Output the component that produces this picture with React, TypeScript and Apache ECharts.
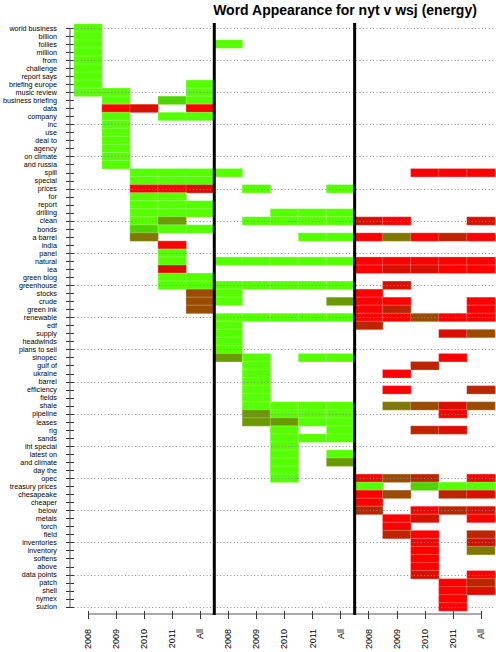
import React, { useEffect, useRef } from "react";
import * as echarts from "echarts";

const chartTitle = "Word Appearance for nyt v wsj (energy)";
const periods = ["2008", "2009", "2010", "2011", "All"];
const groupCount = 3;
const columns: string[] = Array.from({ length: groupCount }, () => periods).flat();

const words = [
  "world business", "billion", "follies", "million", "from", "challenge", "report says",
  "briefing europe", "music review", "business briefing", "data", "company", "inc", "use",
  "deal to", "agency", "on climate", "and russia", "spill", "special", "prices", "for",
  "report", "drilling", "clean", "bonds", "a barrel", "india", "panel", "natural", "iea",
  "green blog", "greenhouse", "stocks", "crude", "green ink", "renewable", "edf", "supply",
  "headwinds", "plans to sell", "sinopec", "gulf of", "ukraine", "barrel", "efficiency",
  "fields", "shale", "pipeline", "leases", "rig", "sands", "iht special", "latest on",
  "and climate", "day the", "opec", "treasury prices", "chesapeake", "cheaper", "below",
  "metals", "torch", "field", "inventories", "inventory", "softens", "above", "data points",
  "patch", "shell", "nymex", "suzlon",
];

// one string per word, one character per column: "." = absent, 1..8 = colour level
const cells = [
  "1..............", "1..............", "1....1.........", "1..............",
  "1..............", "1..............", "1..............", "1...1..........",
  "11..1..........", ".1.21..........", ".87.8..........", ".1.11..........",
  ".1.............", ".1.............", ".1.............", ".1.............",
  ".1.............", ".1.............", "..1111......888", "..111..........",
  "..887.1..1.....", "..11...........", "..111..........", "..111..111.....",
  "..13..111178..7", "..211..........", "..4.....1184868", "...8...........",
  "...1...........", "...1.1111188888", "...7......87788", "...11..........",
  "...1111111.7...", "....51....8....", "....51...388..8", "....5.....86..8",
  ".....1111188588", ".....1....6....", ".....1.......75", ".....1.........",
  ".....1.........", ".....31.11...8.", "......1.....6..", "......1....8...",
  "......1........", "......1....8..6", "......1........", "......1111.4575",
  "......3111...8.", "......3311.....", ".......1.1..67.", ".......111.....",
  ".......1.......", ".......1.1.....", ".......1.3.....", ".......1.......",
  ".......1..856.8", "..........1.211", "..........85.67", "..........8....",
  "..........6.867", "...........87.8", "...........8...", "...........68.6",
  "............8.7", "............8.4", "............8..", "............8..",
  "............7.8", ".............86", ".............87", ".............8.",
  ".............8.",
];

// level 1..8 : green, mid green, olive green, olive, brown, brown red, dark red, red
const levelColors = ["#55ff00", "#4fd400", "#6b9a00", "#807800", "#9c4c00", "#bd2400", "#d91000", "#ff0000"];

const FONT = '"Liberation Sans", Arial, Helvetica, sans-serif';
const W = 496;
const H = 652;
const GRID = { left: 70, top: 24, width: 425, height: 590 };

export default function App() {
  const ref = useRef<HTMLDivElement>(null);

  useEffect(() => {
    if (!ref.current) return;
    const chart = echarts.init(ref.current, undefined, { renderer: "svg", width: W, height: H });

    const data: [number, number, number][] = [];
    cells.forEach((row, r) => {
      row.split("").forEach((ch, c) => {
        if (ch !== ".") data.push([c, r, Number(ch)]);
      });
    });

    const gridRows = words.filter((_, i) => i % 4 === 0);

    chart.setOption({
      animation: false,
      grid: { ...GRID, containLabel: false },
      xAxis: {
        type: "category",
        data: columns,
        axisLine: { show: false },
        axisTick: { show: true, alignWithLabel: true, interval: 0, length: 8, lineStyle: { color: "#333", width: 1 } },
        axisLabel: { interval: 0, rotate: 90, margin: 18, fontSize: 9, color: "#000", fontFamily: FONT },
        splitLine: { show: false },
      },
      yAxis: {
        type: "category",
        data: words,
        inverse: true,
        axisLine: { show: false },
        axisTick: { show: true, alignWithLabel: true, interval: 0, length: 8, lineStyle: { color: "#333", width: 1 } },
        axisLabel: { interval: 0, margin: 17, fontSize: 7.2, color: "#000", fontFamily: FONT },
        splitLine: { show: false },
      },
      visualMap: {
        type: "piecewise",
        show: false,
        dimension: 2,
        seriesIndex: 0,
        pieces: levelColors.map((color, i) => ({ value: i + 1, color })),
      },
      series: [
        {
          type: "heatmap",
          data,
          itemStyle: { borderColor: "rgba(255,255,255,0.3)", borderWidth: 0.8 },
          emphasis: { disabled: true },
          markLine: {
            silent: true,
            symbol: "none",
            label: { show: false },
            lineStyle: { color: "#8a8a8a", type: [1, 2.4], width: 1 },
            data: gridRows.map((w) => ({ yAxis: w })),
          },
        },
      ],
    });

    const px = (i: number) => chart.convertToPixel({ xAxisIndex: 0 }, i) as number;
    const py = (i: number) => chart.convertToPixel({ yAxisIndex: 0 }, i) as number;
    const bottom = GRID.top + GRID.height;

    const separators = Array.from({ length: groupCount - 1 }, (_, g) => {
      const k = (g + 1) * periods.length;
      const x = (px(k - 1) + px(k)) / 2;
      return {
        type: "line",
        z: 100,
        shape: { x1: x, y1: GRID.top - 1, x2: x, y2: bottom + 1 },
        style: { stroke: "#000", lineWidth: 3 },
      };
    });

    chart.setOption({
      graphic: [
        {
          type: "text",
          x: 345,
          y: 10,
          style: {
            text: chartTitle,
            textAlign: "center",
            textVerticalAlign: "middle",
            font: `bold 14px ${FONT}`,
            fill: "#000",
          },
        },
        {
          type: "line",
          z: 100,
          shape: { x1: GRID.left, y1: py(0), x2: GRID.left, y2: py(words.length - 1) },
          style: { stroke: "#555", lineWidth: 1 },
        },
        {
          type: "line",
          z: 100,
          shape: { x1: px(0), y1: bottom, x2: px(columns.length - 1), y2: bottom },
          style: { stroke: "#555", lineWidth: 1 },
        },
        ...separators,
      ],
    });

    return () => chart.dispose();
  }, []);

  return <div ref={ref} style={{ position: "fixed", left: 0, top: 0, width: W, height: H, background: "#fff" }} />;
}
